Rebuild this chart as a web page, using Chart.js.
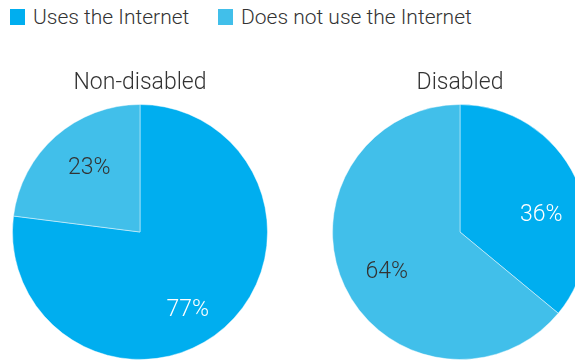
<!DOCTYPE html>
<html>
<head>
<meta charset="utf-8">
<script src="https://cdn.jsdelivr.net/npm/chart.js@4"></script>
<style>
  html, body { margin:0; padding:0; width:575px; height:362px; overflow:hidden; background:#fff; }
  body { position:relative; font-family: Roboto, "Noto Sans", sans-serif; }
  .sw { position:absolute; top:9px; width:15px; height:16px; }
  .lt { position:absolute; top:2px; font-size:21px; font-weight:300; color:#333; line-height:30px; white-space:nowrap; }
  canvas { position:absolute; }
</style>
</head>
<body>
<div id="legend"></div>
<div id="c1wrap" style="position:absolute;left:0;top:60px;width:280px;height:302px;"><canvas id="c1"></canvas></div>
<div id="c2wrap" style="position:absolute;left:320px;top:60px;width:280px;height:302px;"><canvas id="c2"></canvas></div>
<script>
const categories = ["Uses the Internet", "Does not use the Internet"];
const groupTitles = ["Non-disabled", "Disabled"];
const nonDisabledValues = [77, 23];
const disabledValues = [36, 64];

const sliceColors = ["#00AEEF", "#41BFEA"];
const labelColors = ["#ffffff", "#333333"];

// HTML legend built from the categories
const legendPos = [{sw:10, tx:33}, {sw:218, tx:241}];
const legend = document.getElementById('legend');
categories.forEach((c, i) => {
  const s = document.createElement('div');
  s.className = 'sw'; s.style.left = legendPos[i].sw + 'px'; s.style.background = sliceColors[i];
  const t = document.createElement('div');
  t.className = 'lt'; t.style.left = legendPos[i].tx + 'px'; t.textContent = c;
  legend.appendChild(s); legend.appendChild(t);
});

function makeLabelPlugin(nudges) {
  return {
    id: 'pctLabels',
    afterDatasetsDraw(chart) {
      const ctx = chart.ctx;
      const meta = chart.getDatasetMeta(0);
      const data = chart.data.datasets[0].data;
      ctx.save();
      ctx.font = '300 23px Roboto, "Noto Sans", sans-serif';
      ctx.textAlign = 'center';
      ctx.textBaseline = 'middle';
      meta.data.forEach((arc, i) => {
        const p = arc.getProps(['startAngle','endAngle','x','y','outerRadius'], true);
        const mid = (p.startAngle + p.endAngle) / 2;
        const r = p.outerRadius * 0.66;
        ctx.fillStyle = labelColors[i];
        ctx.fillText(data[i] + '%', p.x + Math.cos(mid) * r + nudges[i][0], p.y + Math.sin(mid) * r + nudges[i][1]);
      });
      ctx.restore();
    }
  };
}

function makePie(id, title, values, nudges) {
  return new Chart(document.getElementById(id), {
    type: 'pie',
    data: {
      labels: categories,
      datasets: [{
        data: values,
        backgroundColor: sliceColors,
        borderColor: 'rgba(255,255,255,0.45)',
        borderWidth: 1
      }]
    },
    options: {
      responsive: true,
      maintainAspectRatio: false,
      animation: false,
      layout: { padding: { bottom: 2 } },
      plugins: {
        legend: { display: false },
        tooltip: { enabled: false },
        title: {
          display: true,
          text: title,
          color: '#333',
          font: { family: 'Roboto, "Noto Sans", sans-serif', size: 23, weight: '300', lineHeight: 1.2 },
          padding: { top: 9, bottom: 7.4 }
        }
      }
    },
    plugins: [makeLabelPlugin(nudges)]
  });
}

makePie('c1', groupTitles[0], nonDisabledValues, [[-8, 15], [5, -1]]);
makePie('c2', groupTitles[1], disabledValues, [[5, 19], [3, 4]]);
</script>
</body>
</html>
